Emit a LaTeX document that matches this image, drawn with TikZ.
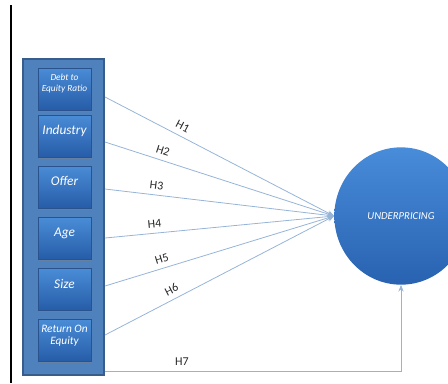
\documentclass[tikz,border=0pt]{standalone}
\usepackage{fontspec}
\setmainfont{Carlito}
\usetikzlibrary{arrows.meta,shapes.geometric,shadows}

\definecolor{panelblue}{RGB}{79,129,189}
\definecolor{paneledge}{RGB}{56,93,138}
\definecolor{boxtop}{RGB}{74,140,214}
\definecolor{boxbottom}{RGB}{38,92,168}
\definecolor{boxedge}{RGB}{42,82,140}
\definecolor{circtop}{RGB}{72,140,218}
\definecolor{circbottom}{RGB}{40,98,176}
\definecolor{linkblue}{RGB}{150,180,216}
\definecolor{hypgray}{RGB}{40,40,40}

\begin{document}
\begin{tikzpicture}[
  x=0.75pt, y=-0.75pt,
  panel/.style={draw=paneledge, fill=panelblue, line width=0.8pt,
    minimum width=60.75pt, minimum height=237pt},
  factor/.style={draw=boxedge, top color=boxtop, bottom color=boxbottom,
    minimum width=39.75pt, minimum height=31.5pt, inner sep=1pt,
    text=white, align=center, text depth=9pt,
    font=\itshape\fontsize{10}{10.5}\selectfont,
    drop shadow={shadow xshift=0.8pt, shadow yshift=-1.2pt, opacity=0.45}},
  smalltext/.style={font=\itshape\fontsize{7}{8}\selectfont},
  outcome/.style={ellipse, top color=circtop, bottom color=circbottom,
    minimum width=100pt, minimum height=103pt, text=white,
    font=\itshape\fontsize{8}{9}\selectfont},
  link/.style={draw=linkblue, line width=0.6pt,
    -{Stealth[length=5pt,width=4pt]}},
  hyp/.style={font=\fontsize{9}{10}\selectfont, text=hypgray,
    sloped, above=3.5pt, inner sep=0.5pt}
]
\useasboundingbox (0,0) rectangle (448,383);
\clip (0,0) rectangle (448,383);

\draw[line width=0.8pt] (11,5) -- (11,383);

% independent variables
\node[panel] (panel) at (63.5,217) {};
\node[factor, smalltext] (debt) at (64.5,89) {Debt to\\Equity Ratio};
\node[factor] (industry) at (64.5,136) {Industry};
\node[factor] (offer) at (64.5,187) {Offer};
\node[factor] (age) at (64.5,238.5) {Age};
\node[factor] (size) at (64.5,289.5) {Size};
\node[factor, font=\itshape\fontsize{8.5}{9}\selectfont] (roe) at (64.5,340.5) {Return On\\Equity};

% dependent variable
\node[outcome] (under) at (401,216) {UNDERPRICING};

% line start points on the panel edge
\coordinate (s1) at (105,97);
\coordinate (s2) at (105,142);
\coordinate (s3) at (105,189);
\coordinate (s4) at (105,238);
\coordinate (s5) at (105,286);
\coordinate (s6) at (105,335);
\coordinate (s7) at (105,371);

\draw[link] (s1) -- node[hyp, pos=0.32] {H1} (under.west);
\draw[link] (s2) -- node[hyp, pos=0.24] {H2} (under.west);
\draw[link] (s3) -- node[hyp, pos=0.22] {H3} (under.west);
\draw[link] (s4) -- node[hyp, pos=0.22] {H4} (under.west);
\draw[link] (s5) -- node[hyp, pos=0.26] {H5} (under.west);
\draw[link] (s6) -- node[hyp, pos=0.31] {H6} (under.west);
\draw[link] (s7) -| node[hyp, pos=0.13] {H7} (under.south);
\end{tikzpicture}
\end{document}
